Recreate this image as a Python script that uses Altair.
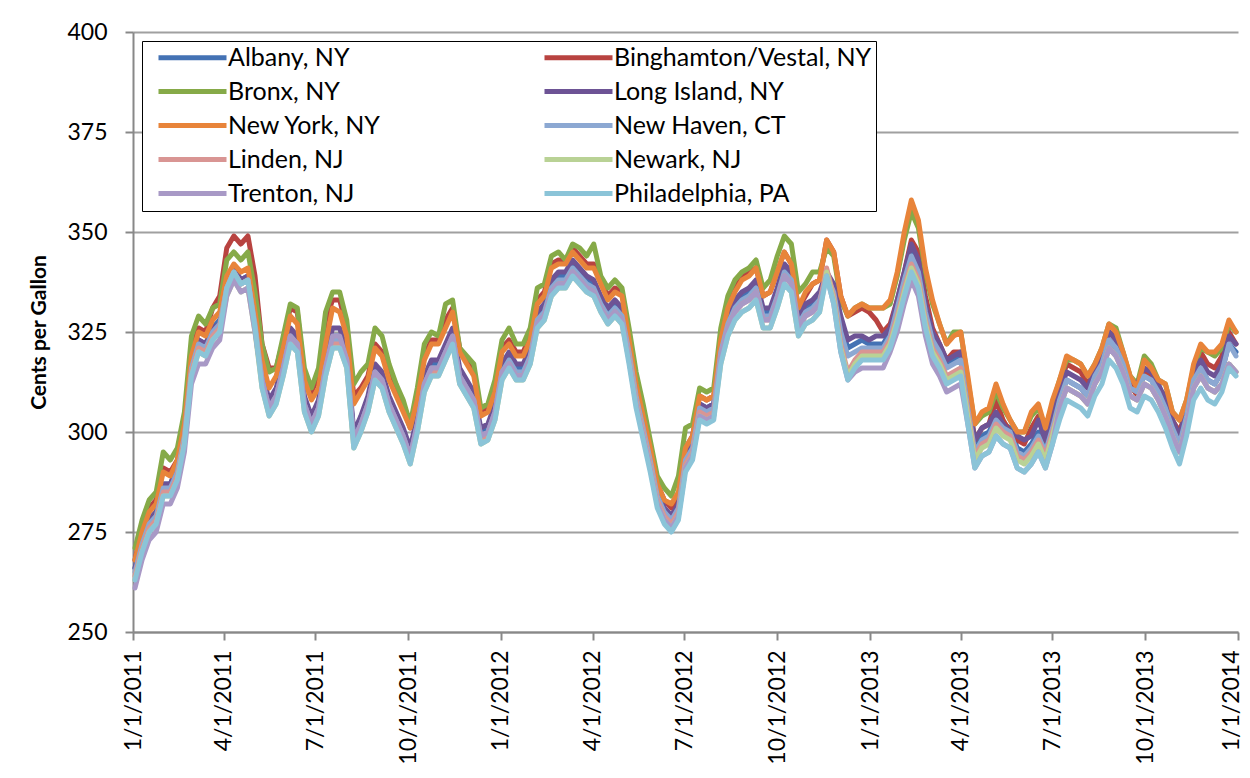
import altair as alt
import pandas as pd

CITIES = ["Albany, NY", "Binghamton/Vestal, NY", "Bronx, NY", "Long Island, NY",
          "New York, NY", "New Haven, CT", "Linden, NJ", "Newark, NJ",
          "Trenton, NJ", "Philadelphia, PA"]
COLORS = ["#4472B4", "#B84340", "#86AA48", "#6D5395", "#E8843A",
          "#8CA8D2", "#D99593", "#B9D295", "#A899C6", "#8BC4D8"]

FIRST_WEEK = "2011-01-03"
QUARTERS = [(2011, 1), (2011, 4), (2011, 7), (2011, 10), (2012, 1), (2012, 4), (2012, 7),
            (2012, 10), (2013, 1), (2013, 4), (2013, 7), (2013, 10), (2014, 1)]
Y_TICKS = [250, 275, 300, 325, 350, 375, 400]

# weekly retail prices, cents per gallon
philadelphia = [
    263, 270, 275, 277, 284, 284, 288, 297, 314, 320, 319, 323, 325,
    336, 340, 337, 338, 326,
    311, 304, 307, 314, 322, 320, 305, 300, 304, 314, 321, 321, 316, 296, 300, 305, 313,
    311, 305, 301, 297, 292, 300, 310, 314, 314, 318, 322, 312, 309, 306, 297, 298, 303, 313,
    316, 313, 313, 317, 326, 328, 334, 336, 336, 339, 337, 335, 334, 330, 327, 329, 327,
    317, 306, 298, 290, 281, 277, 275, 278, 290, 293, 303, 302, 303,
    317, 324, 328, 330, 331, 333, 326, 326, 331, 337, 335, 324, 327, 328, 330,
    339, 332, 320, 313, 316, 318, 318, 318, 318, 321,
    327, 334, 340, 336, 326, 319, 316, 312, 313, 314,
    302, 291, 294, 295, 299, 297, 296, 291, 290, 292, 295, 291, 297,
    303, 308, 307, 306, 304, 309, 312, 318, 316, 312, 306, 305, 309,
    308, 305, 301, 296, 292, 299, 308, 311, 308, 307, 310, 316, 314,
]
new_york = [
    268, 275, 280, 282, 290, 289, 293, 302, 319, 325, 324, 328, 330,
    339, 342, 340, 341, 330,
    318, 311, 314, 321, 329, 327, 313, 308, 311, 322, 331, 330, 324, 307, 310, 313, 321,
    319, 313, 309, 305, 301, 308, 318, 322, 322, 326, 330, 320, 317, 314, 304, 305, 310, 320,
    322, 319, 319, 323, 332, 334, 341, 342, 342, 345, 343, 341, 341, 337, 333, 335, 334,
    323, 312, 304, 296, 287, 283, 282, 285, 296, 299, 309, 308, 309,
    323, 331, 335, 338, 339, 341, 334, 335, 340, 345, 342, 331, 335, 337, 338,
    348, 345, 334, 329, 331, 332, 331, 331, 331, 333,
    340, 350, 358, 353, 341, 333, 327, 322, 324, 325,
    314, 302, 305, 306, 312, 307, 303, 300, 300, 305, 307, 301, 308,
    313, 319, 318, 317, 314, 317, 321, 327, 325, 320, 314, 311, 318,
    316, 313, 312, 305, 303, 308, 317, 322, 320, 320, 322, 328, 325,
]
bronx = [
    271, 278, 283, 285, 295, 293, 296, 305, 324, 329, 327, 331, 332,
    343, 345, 343, 345, 335,
    322, 315, 316, 324, 332, 331, 316, 311, 316, 330, 335, 335, 328, 312, 315, 317, 326,
    324, 317, 312, 308, 302, 311, 322, 325, 324, 332, 333, 321, 319, 317, 306, 307, 313, 323,
    326, 322, 322, 326, 336, 337, 344, 345, 343, 347, 346, 344, 347, 339, 336, 338, 336,
    326, 315, 307, 298, 289, 286, 284, 289, 301, 302, 311, 310, 311,
    326, 334, 338, 340, 341, 343, 336, 338, 344, 349, 347, 335, 337, 340, 340,
    346, 344, 333, 329, 331, 332, 331, 331, 331, 332,
    339, 348, 355, 351, 340, 332, 327, 322, 325, 325,
    313, 302, 304, 305, 310, 306, 303, 300, 300, 304, 306, 301, 307,
    313, 318, 318, 317, 314, 317, 321, 327, 326, 320, 314, 312, 319,
    317, 313, 312, 305, 303, 308, 316, 321, 320, 319, 321, 327, 325,
]
binghamton = [
    268, 276, 281, 283, 291, 290, 293, 303, 320, 326, 325, 331, 334,
    346, 349, 347, 349, 339,
    322, 316, 316, 323, 331, 330, 314, 310, 314, 328, 333, 333, 326, 309, 311, 314, 322,
    320, 314, 310, 306, 301, 309, 319, 323, 323, 328, 331, 321, 318, 315, 305, 306, 311, 321,
    323, 320, 320, 324, 333, 335, 342, 343, 343, 346, 344, 342, 342, 338, 334, 336, 335,
    323, 312, 304, 296, 287, 283, 281, 284, 296, 299, 309, 308, 309,
    323, 331, 336, 339, 340, 341, 334, 335, 340, 345, 342, 331, 334, 337, 338,
    348, 345, 334, 329, 330, 331, 330, 328, 325, 327,
    333, 340, 348, 345, 334, 326, 322, 318, 320, 320,
    310, 298, 301, 302, 308, 303, 300, 298, 297, 301, 304, 298, 304,
    311, 317, 316, 315, 312, 315, 319, 325, 324, 318, 312, 309, 315,
    314, 311, 309, 303, 300, 306, 315, 320, 317, 316, 319, 325, 322,
]
# the middle series, read as cents above Philadelphia for the same week
long_island_gap = [
    3, 3, 3, 3, 3, 3, 3, 3, 3, 3, 3, 3, 2,
    1, 1, 1, 1, 2,
    4, 4, 4, 4, 4, 4, 4, 4, 4, 5, 5, 5, 4, 4, 4, 4, 4,
    4, 4, 4, 4, 4, 4, 4, 4, 4, 4, 4, 4, 4, 4, 4, 4, 4, 4,
    4, 4, 4, 4, 4, 4, 4, 4, 4, 4, 4, 4, 4, 4, 4, 4, 4,
    4, 4, 4, 4, 4, 4, 4, 4, 4, 4, 4, 4, 4,
    5, 5, 5, 5, 5, 5, 5, 5, 5, 5, 5, 5, 5, 5, 5,
    1, 5, 9, 10, 8, 6, 5, 6, 6, 5,
    6, 6, 7, 7, 6, 6, 6, 6, 6, 6,
    6, 7, 7, 7, 6, 5, 4, 8, 8, 7, 8, 7, 7,
    7, 7, 7, 7, 7, 7, 7, 7, 7, 7, 7, 7, 7,
    7, 7, 7, 7, 7, 7, 7, 7, 7, 7, 7, 8, 8,
]
albany_gap = [
    3, 3, 3, 3, 3, 3, 3, 3, 3, 3, 3, 3, 3,
    1, 1, 1, 1, 2,
    3, 3, 3, 3, 3, 3, 3, 3, 3, 3, 3, 3, 3, 3, 3, 3, 3,
    3, 3, 3, 3, 3, 3, 3, 3, 3, 3, 3, 3, 3, 3, 3, 3, 3, 3,
    3, 3, 3, 3, 3, 3, 3, 3, 3, 3, 3, 3, 3, 3, 3, 3, 3,
    4, 4, 4, 4, 4, 4, 4, 4, 4, 4, 4, 4, 4,
    4, 4, 4, 4, 4, 4, 4, 4, 4, 4, 4, 4, 4, 4, 4,
    1, 4, 7, 8, 6, 5, 4, 4, 4, 4,
    5, 5, 5, 5, 5, 5, 5, 5, 5, 5,
    5, 5, 5, 5, 5, 5, 5, 5, 5, 5, 5, 5, 5,
    5, 5, 5, 5, 5, 5, 5, 5, 5, 5, 5, 5, 5,
    5, 5, 5, 5, 5, 5, 5, 5, 5, 5, 5, 6, 6,
]
new_haven_gap = [
    2, 2, 2, 2, 2, 2, 2, 2, 2, 2, 2, 2, 2,
    0, 0, 0, 0, 1,
    2, 2, 2, 2, 2, 2, 2, 2, 2, 2, 2, 2, 2, 2, 2, 2, 2,
    2, 2, 2, 2, 2, 2, 2, 2, 2, 2, 2, 2, 2, 2, 2, 2, 2, 2,
    2, 2, 2, 2, 2, 2, 2, 2, 2, 2, 2, 2, 2, 2, 2, 2, 2,
    3, 3, 3, 3, 3, 3, 3, 3, 3, 3, 3, 3, 3,
    3, 3, 3, 3, 3, 3, 3, 3, 3, 3, 3, 3, 3, 3, 3,
    0, 3, 5, 6, 4, 3, 3, 3, 3, 3,
    4, 4, 4, 4, 4, 4, 4, 4, 4, 4,
    4, 4, 4, 4, 4, 4, 4, 4, 4, 4, 4, 4, 4,
    5, 5, 5, 5, 5, 5, 5, 5, 5, 5, 5, 5, 5,
    5, 5, 5, 5, 5, 5, 5, 5, 5, 5, 5, 6, 5,
]
linden_gap = [
    1, 1, 1, 1, 1, 1, 1, 1, 1, 1, 1, 1, 1,
    0, 0, 0, 0, 0,
    1, 1, 1, 1, 1, 1, 1, 1, 1, 1, 1, 1, 1, 1, 1, 1, 1,
    1, 1, 1, 1, 1, 1, 1, 1, 1, 1, 1, 1, 1, 1, 1, 1, 1, 1,
    1, 1, 1, 1, 1, 1, 1, 1, 1, 1, 1, 1, 1, 1, 1, 1, 1,
    2, 2, 2, 2, 2, 2, 2, 2, 2, 2, 2, 2, 2,
    2, 2, 2, 2, 2, 2, 2, 2, 2, 2, 2, 2, 2, 2, 2,
    2, 2, 2, 2, 2, 2, 2, 2, 2, 2,
    2, 2, 2, 2, 2, 2, 2, 2, 2, 2,
    3, 3, 3, 3, 3, 3, 3, 3, 3, 3, 3, 3, 3,
    3, 3, 3, 3, 3, 3, 3, 3, 3, 3, 3, 3, 3,
    3, 3, 3, 3, 3, 3, 3, 3, 3, 3, 2, 1, 1,
]
newark_gap = [
    0, 0, 0, 0, 0, 0, 0, 0, 0, 0, 0, 0, 0,
    -2, -2, -2, -2, -1,
    0, 0, 0, 0, 0, 0, 0, 0, 0, 0, 0, 0, 0, 0, 0, 0, 0,
    0, 0, 0, 0, 0, 0, 0, 0, 0, 0, 0, 0, 0, 0, 0, 0, 0, 0,
    0, 0, 0, 0, 0, 0, 0, 0, 0, 0, 0, 0, 0, 0, 0, 0, 0,
    1, 1, 1, 1, 1, 1, 1, 1, 1, 1, 1, 1, 1,
    0, 0, 0, 0, 0, 0, 0, 0, 0, 0, 0, 0, 0, 0, 0,
    1, 1, 1, 1, 1, 1, 1, 1, 1, 1,
    1, 1, 1, 1, 1, 1, 1, 1, 1, 1,
    2, 2, 2, 2, 2, 2, 2, 2, 2, 2, 2, 2, 2,
    3, 3, 3, 3, 3, 3, 3, 3, 3, 3, 3, 3, 3,
    3, 3, 3, 3, 3, 3, 3, 3, 3, 3, 2, 1, 1,
]
trenton_gap = [
    -2, -2, -2, -2, -2, -2, -2, -2, -2, -3, -2, -2, -2,
    -2, -2, -2, -2, -1,
    2, 2, 2, 2, 2, 2, 2, 2, 2, 2, 3, 3, 2, 2, 2, 2, 2,
    2, 2, 2, 2, 2, 2, 2, 2, 2, 2, 2, 2, 2, 2, 2, 2, 2, 2,
    1, 1, 1, 1, 1, 1, 1, 1, 1, 1, 1, 1, 1, 1, 1, 1, 1,
    1, 1, 1, 1, 1, 1, 1, 1, 1, 1, 1, 1, 1,
    2, 2, 2, 2, 2, 2, 2, 2, 2, 2, 2, 2, 2, 2, 2,
    0, 0, 0, 0, -1, -2, -2, -2, -2, -1,
    -2, -2, -2, -2, -2, -2, -2, -2, -2, -2,
    0, 0, 0, 0, 0, 0, 0, 0, 0, 0, 0, 0, 0,
    3, 3, 3, 3, 3, 3, 3, 3, 3, 3, 3, 3, 3,
    3, 3, 3, 3, 3, 3, 3, 3, 3, 3, 2, 1, 1,
]

n = len(philadelphia)
for name, arr in [("new_york", new_york), ("bronx", bronx), ("binghamton", binghamton),
                  ("long_island_gap", long_island_gap), ("albany_gap", albany_gap),
                  ("new_haven_gap", new_haven_gap), ("linden_gap", linden_gap),
                  ("newark_gap", newark_gap), ("trenton_gap", trenton_gap)]:
    if len(arr) != n:
        raise ValueError(f"{name} has {len(arr)} values, expected {n}")

series = {
    "Albany, NY": [p + g for p, g in zip(philadelphia, albany_gap)],
    "Binghamton/Vestal, NY": binghamton,
    "Bronx, NY": bronx,
    "Long Island, NY": [p + g for p, g in zip(philadelphia, long_island_gap)],
    "New York, NY": new_york,
    "New Haven, CT": [p + g for p, g in zip(philadelphia, new_haven_gap)],
    "Linden, NJ": [p + g for p, g in zip(philadelphia, linden_gap)],
    "Newark, NJ": [p + g for p, g in zip(philadelphia, newark_gap)],
    "Trenton, NJ": [p + g for p, g in zip(philadelphia, trenton_gap)],
    "Philadelphia, PA": philadelphia,
}

dates = pd.date_range(FIRST_WEEK, periods=n, freq="7D").strftime("%Y-%m-%d").tolist()
rows = []
for city in CITIES:
    for d, v in zip(dates, series[city]):
        rows.append({"date": d, "city": city, "price": v})
df = pd.DataFrame(rows)

FONT = "Lato"
quarter_values = [alt.DateTime(year=y, month=m, date=1, utc=True) for y, m in QUARTERS]

x_enc = alt.X(
    "date:T",
    scale=alt.Scale(type="utc", domain=[quarter_values[0], quarter_values[-1]]),
    axis=alt.Axis(
        values=quarter_values, format="%-m/%-d/%Y", labelAngle=270,
        labelFont=FONT, labelFontSize=23, labelColor="black",
        labelPadding=10, tickSize=8, tickColor="#888888", tickWidth=2,
        domainColor="#888888", domainWidth=2, grid=False, title=None,
        labelOverlap=False,
        # keep the last date label inside the page edge
        labelOffset={"condition": {"test": "datum.value > 1388000000000", "value": -7},
                     "value": 0},
    ),
)
y_enc = alt.Y(
    "price:Q",
    scale=alt.Scale(domain=[250, 400], nice=False, zero=False),
    axis=alt.Axis(
        values=Y_TICKS, labelFont=FONT, labelFontSize=23, labelColor="black",
        labelPadding=18, tickSize=8, tickColor="#888888", tickWidth=2,
        domainColor="#888888", domainWidth=2,
        grid=True, gridColor="#a0a0a0", gridWidth=2,
        title="Cents per Gallon", titleFont=FONT, titleFontSize=21,
        titleFontWeight="bold", titleColor="black",
        titleX=-94, titleY=300, titleAngle=270, titleBaseline="middle",
    ),
)
color_enc = alt.Color(
    "city:N",
    scale=alt.Scale(domain=CITIES, range=COLORS),
    legend=alt.Legend(
        title=None, orient="none", legendX=9, legendY=9,
        direction="horizontal", columns=2,
        symbolType="M0,0H6.8", symbolSize=400, symbolStrokeWidth=5,
        labelFont=FONT, labelFontSize=25, labelColor="black", labelLimit=500,
        labelOffset=57, rowPadding=8, columnPadding=150, padding=4,
        strokeColor="black", fillColor="white",
    ),
)

layers = []
for city in CITIES:
    layers.append(
        alt.Chart()
        .mark_line(strokeWidth=5, strokeJoin="round", strokeCap="round")
        .encode(x=x_enc, y=y_enc, color=color_enc)
        .transform_filter(alt.datum.city == city)
    )

chart = (
    alt.layer(*layers, data=df)
    .properties(
        width=1105, height=600,
        autosize=alt.AutoSizeParams(type="none"),
        padding={"left": 125, "top": 24, "right": 4, "bottom": 138},
        background="white",
    )
    .configure_view(stroke=None)
)

chart.save("out.html", embed_options={"renderer": "svg", "actions": False})
